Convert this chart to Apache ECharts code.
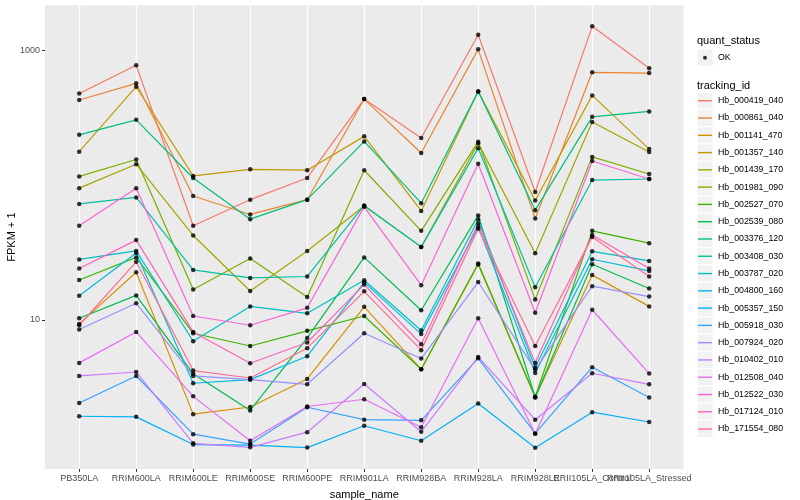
<!DOCTYPE html>
<html>
<head>
<meta charset="utf-8">
<script src="https://cdn.jsdelivr.net/npm/echarts@6/dist/echarts.min.js"></script>
<style>html,body{margin:0;padding:0;background:#fff}#c{width:800px;height:500px}</style>
</head>
<body>
<div id="c"></div>
<script>
const categories = ['PB350LA','RRIM600LA','RRIM600LE','RRIM600SE','RRIM600PE','RRIM901LA','RRIM928BA','RRIM928LA','RRIM928LE','RRII105LA_Control','RRII105LA_Stressed'];
const trackingIds = ['Hb_000419_040','Hb_000861_040','Hb_001141_470','Hb_001357_140','Hb_001439_170','Hb_001981_090','Hb_002527_070','Hb_002539_080','Hb_003376_120','Hb_003408_030','Hb_003787_020','Hb_004800_160','Hb_005357_150','Hb_005918_030','Hb_007924_020','Hb_010402_010','Hb_012508_040','Hb_012522_030','Hb_017124_010','Hb_171554_080'];
const quantStatus = ['OK'];
const xAxisTitle = 'sample_name';
const yAxisTitle = 'FPKM + 1';

// FPKM + 1 values per tracking id, in category order
const Hb_000419_040 = [479, 774, 49.9, 78, 113, 435, 224, 1306, 89, 1507, 735];
const Hb_000861_040 = [428, 569, 83, 60.6, 78, 435, 173, 1017, 56.6, 687, 678];
const Hb_001141_470 = [9.34, 22.6, 2.0, 2.26, 3.65, 12.5, 4.31, 25.8, 2.66, 21.5, 12.6];
const Hb_001357_140 = [177, 537, 117, 131, 129, 230, 64.4, 496, 77, 463, 185];
const Hb_001439_170 = [95, 143, 42.3, 16.4, 32.5, 69.9, 34.7, 204, 31.2, 294, 176];
const Hb_001981_090 = [116, 155, 16.8, 28.6, 14.8, 129, 45.8, 210, 14.2, 162, 121];
const Hb_002527_070 = [19.8, 29.1, 7.97, 6.41, 8.3, 10.7, 4.31, 26.2, 2.69, 45.8, 37.1];
const Hb_002539_080 = [10.3, 15.2, 3.98, 2.13, 7.35, 29.1, 11.8, 59.6, 2.67, 25.9, 17.1];
const Hb_003376_120 = [236, 305, 113, 55.9, 78, 211, 73.5, 496, 65.2, 321, 352];
const Hb_003408_030 = [72.6, 81, 23.5, 20.5, 21, 70.7, 34.7, 188, 17.5, 109, 111];
const Hb_003787_020 = [28.1, 32.5, 6.95, 12.6, 11.2, 19.7, 8.34, 55.6, 4.43, 32.3, 27.4];
const Hb_004800_160 = [15.1, 31.4, 3.39, 3.61, 5.38, 19.0, 7.85, 49, 4.04, 28.2, 23.1];
const Hb_005357_150 = [1.93, 1.91, 1.19, 1.18, 1.13, 1.64, 1.27, 2.40, 1.125, 2.07, 1.75];
const Hb_005918_030 = [2.42, 3.84, 1.42, 1.20, 2.25, 1.82, 1.80, 5.19, 1.44, 4.46, 2.66];
const Hb_007924_020 = [8.49, 13.3, 3.84, 3.61, 3.33, 7.97, 5.17, 19.1, 4.28, 17.8, 14.9];
const Hb_010402_010 = [3.84, 4.11, 1.215, 1.135, 1.47, 3.35, 1.48, 5.31, 1.82, 4.02, 3.33];
const Hb_012508_040 = [4.8, 8.15, 2.71, 1.27, 2.28, 2.58, 1.60, 10.3, 1.43, 11.9, 4.0];
const Hb_012522_030 = [49.9, 95, 10.7, 9.13, 12.3, 69, 18.1, 144, 11.3, 151, 111];
const Hb_017124_010 = [24.1, 39.1, 8.15, 4.77, 6.8, 18.3, 6.6, 52, 4.8, 42.6, 24.1];
const Hb_171554_080 = [9.13, 27, 4.21, 3.71, 6.17, 16.3, 5.97, 47.4, 6.41, 41.3, 21];

const yTickValues = [10, 1000];
const palette = ['#F8766D','#EA8331','#D89000','#C09B00','#A3A500','#7CAE00','#39B600','#00BB4E','#00BF7D','#00C1A3','#00BFC4','#00BAE0','#00B0F6','#35A2FF','#9590FF','#C77CFF','#E76BF3','#FA62DB','#FF62BC','#FF6C91'];

const seriesValues = [Hb_000419_040,Hb_000861_040,Hb_001141_470,Hb_001357_140,Hb_001439_170,Hb_001981_090,Hb_002527_070,Hb_002539_080,Hb_003376_120,Hb_003408_030,Hb_003787_020,Hb_004800_160,Hb_005357_150,Hb_005918_030,Hb_007924_020,Hb_010402_010,Hb_012508_040,Hb_012522_030,Hb_017124_010,Hb_171554_080];

// ---- layout ----
const FONT = '"Liberation Sans", Arial, Helvetica, sans-serif';
const panel = { left: 45, top: 5.3, width: 638.4, height: 463.6 };
const step = panel.width / (categories.length - 1 + 1.2);
const inner = { left: panel.left + 0.6 * step, width: step * (categories.length - 1) };
const yMin = 0.785, yMax = 2158;
const keyLeft = 697, keyW = 16, keyH = 17.28;
const okTop = 49, idsTop = 92.1;

const chart = echarts.init(document.getElementById('c'), null, { renderer: 'canvas' });

const lineSeries = trackingIds.map((id, k) => ({
  name: id,
  type: 'line',
  xAxisIndex: 1,
  yAxisIndex: 1,
  data: seriesValues[k],
  showSymbol: false,
  symbol: 'none',
  color: palette[k],
  lineStyle: { width: 1.2, color: palette[k] },
  z: 2,
  silent: true,
  animation: false
}));

const pointData = [];
seriesValues.forEach(vals => vals.forEach((v, i) => pointData.push([i, v])));

const graphics = [
  { type: 'text', left: keyLeft, top: 35, style: { text: 'quant_status', fontSize: 11, fontFamily: FONT, fill: '#000' } },
  { type: 'text', left: keyLeft, top: 80, style: { text: 'tracking_id', fontSize: 11, fontFamily: FONT, fill: '#000' } },
  { type: 'text', x: 12, y: panel.top + panel.height / 2, rotation: Math.PI / 2,
    style: { text: yAxisTitle, fontSize: 11, fontFamily: FONT, fill: '#000', align: 'center', verticalAlign: 'middle' } },
  { type: 'rect', shape: { x: keyLeft, y: okTop, width: keyW, height: keyH }, style: { fill: '#F2F2F2', stroke: '#fff', lineWidth: 1 }, z: -5 }
];
trackingIds.forEach((id, k) => {
  graphics.push({ type: 'rect', shape: { x: keyLeft, y: idsTop + k * keyH, width: keyW, height: keyH }, style: { fill: '#F2F2F2', stroke: '#fff', lineWidth: 1 }, z: -5 });
});

const option = {
  animation: false,
  backgroundColor: '#fff',
  textStyle: { fontFamily: FONT },
  grid: [
    { left: panel.left, top: panel.top, width: panel.width, height: panel.height, show: true, backgroundColor: '#EBEBEB', borderWidth: 0, containLabel: false, outerBoundsMode: 'none' },
    { left: inner.left, top: panel.top, width: inner.width, height: panel.height, show: false, containLabel: false, outerBoundsMode: 'none' }
  ],
  xAxis: [
    { type: 'value', gridIndex: 0, min: 0, max: 1, show: false },
    {
      type: 'category', gridIndex: 1, data: categories, boundaryGap: false,
      axisLine: { show: false },
      axisTick: { show: true, length: 3, lineStyle: { color: '#333', width: 1 } },
      axisLabel: { interval: 0, color: '#4D4D4D', fontSize: 9, margin: 5, fontFamily: FONT },
      splitLine: { show: true, lineStyle: { color: '#fff', width: 1.2 } },
      name: xAxisTitle, nameLocation: 'middle', nameGap: 21,
      nameTextStyle: { color: '#000', fontSize: 11, fontFamily: FONT }
    }
  ],
  yAxis: [
    {
      type: 'log', gridIndex: 0, logBase: 10, min: yMin, max: yMax,
      axisLine: { show: false },
      axisTick: { show: true, length: 3, lineStyle: { color: '#333', width: 1 }, customValues: yTickValues },
      axisLabel: { color: '#4D4D4D', fontSize: 9, margin: 5, fontFamily: FONT, customValues: yTickValues, formatter: v => String(v) },
      splitLine: { show: true, showMinLine: false, showMaxLine: false, lineStyle: { color: '#fff', width: 1.1 } }
    },
    {
      type: 'log', gridIndex: 1, logBase: 10, min: yMin, max: yMax,
      axisLine: { show: false }, axisTick: { show: false }, axisLabel: { show: false }, splitLine: { show: false }
    }
  ],
  legend: [
    {
      data: quantStatus, orient: 'vertical', left: keyLeft, top: okTop, padding: 0,
      itemWidth: keyW, itemHeight: keyH, itemGap: 0,
      icon: 'path://M0,0M16,17.28M10,8.64A2,2,0,1,1,6,8.64A2,2,0,1,1,10,8.64Z',
      textStyle: { fontSize: 8.8, color: '#000', fontFamily: FONT },
      selectedMode: false
    },
    {
      data: trackingIds, orient: 'vertical', left: keyLeft, top: idsTop, padding: 0,
      itemWidth: keyW, itemHeight: keyH, itemGap: 0,
      icon: 'path://M0,0M16,17.28M1,7.94L15,7.94L15,9.34L1,9.34Z',
      textStyle: { fontSize: 8.8, color: '#000', fontFamily: FONT },
      selectedMode: false
    }
  ],
  graphic: graphics,
  series: lineSeries.concat([{
    name: 'OK', type: 'scatter', xAxisIndex: 1, yAxisIndex: 1,
    data: pointData, symbol: 'circle', symbolSize: 4.5,
    itemStyle: { color: '#000' }, z: 5, silent: true, animation: false
  }])
};
chart.setOption(option);
</script>
</body>
</html>
